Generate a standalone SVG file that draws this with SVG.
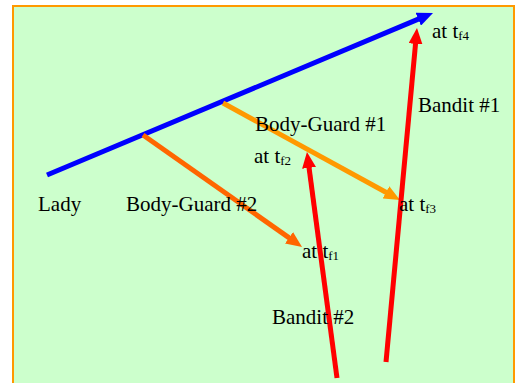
<svg xmlns="http://www.w3.org/2000/svg" width="516" height="383" viewBox="0 0 516 383">
<style>
.lbl{font-family:"Liberation Serif","Times New Roman",serif;font-size:21px;fill:#000}
.sub{font-size:13px}
.c{fill:none;stroke-width:5}
</style>
<defs>
<marker id="ab" viewBox="0 0 16 14" refX="2" refY="7" markerWidth="16" markerHeight="14" markerUnits="userSpaceOnUse" orient="auto"><path d="M0,0L16,7L0,14z" fill="#0000ff"/></marker>
<marker id="ar" viewBox="0 0 16 14" refX="2" refY="7" markerWidth="16" markerHeight="14" markerUnits="userSpaceOnUse" orient="auto"><path d="M0,0L16,7L0,14z" fill="#ff0000"/></marker>
<marker id="ao1" viewBox="0 0 16 14" refX="2" refY="7" markerWidth="16" markerHeight="14" markerUnits="userSpaceOnUse" orient="auto"><path d="M0,0L16,7L0,14z" fill="#ff9900"/></marker>
<marker id="ao2" viewBox="0 0 16 14" refX="2" refY="7" markerWidth="16" markerHeight="14" markerUnits="userSpaceOnUse" orient="auto"><path d="M0,0L16,7L0,14z" fill="#ff6600"/></marker>
</defs>
<rect id="frame" x="13" y="6" width="501" height="400" fill="#ccffcc" stroke="#ff9900" stroke-width="2"/>
<g id="connectors">
<path id="lady-path" class="c" stroke="#0000ff" d="M47,175L420.1,18.4" marker-end="url(#ab)"/>
<path id="bg1-path" class="c" stroke="#ff9900" d="M223,103L387.7,193.3" marker-end="url(#ao1)"/>
<path id="bg2-path" class="c" stroke="#ff6600" d="M143,135L290.6,238.9" marker-end="url(#ao2)"/>
<path id="bandit2-path" class="c" stroke="#ff0000" d="M337,378L308.8,165.9" marker-end="url(#ar)"/>
<path id="bandit1-path" class="c" stroke="#ff0000" d="M386,362L415.7,41.9" marker-end="url(#ar)"/>
</g>
<g id="lady"><text class="lbl" x="38" y="211">Lady</text></g>
<g id="bodyguard2"><text class="lbl" x="126" y="211">Body-Guard #2</text></g>
<g id="bodyguard1"><text class="lbl" x="255" y="131">Body-Guard #1</text></g>
<g id="bandit1"><text class="lbl" x="418" y="112">Bandit #1</text></g>
<g id="bandit2"><text class="lbl" x="272" y="324">Bandit #2</text></g>
<g id="tf4"><text class="lbl" x="432" y="38">at t<tspan class="sub" dy="2">f4</tspan></text></g>
<g id="tf2"><text class="lbl" x="254" y="163">at t<tspan class="sub" dy="2">f2</tspan></text></g>
<g id="tf3"><text class="lbl" x="399" y="211">at t<tspan class="sub" dy="2">f3</tspan></text></g>
<g id="tf1"><text class="lbl" x="302" y="258">at t<tspan class="sub" dy="2">f1</tspan></text></g>
</svg>
